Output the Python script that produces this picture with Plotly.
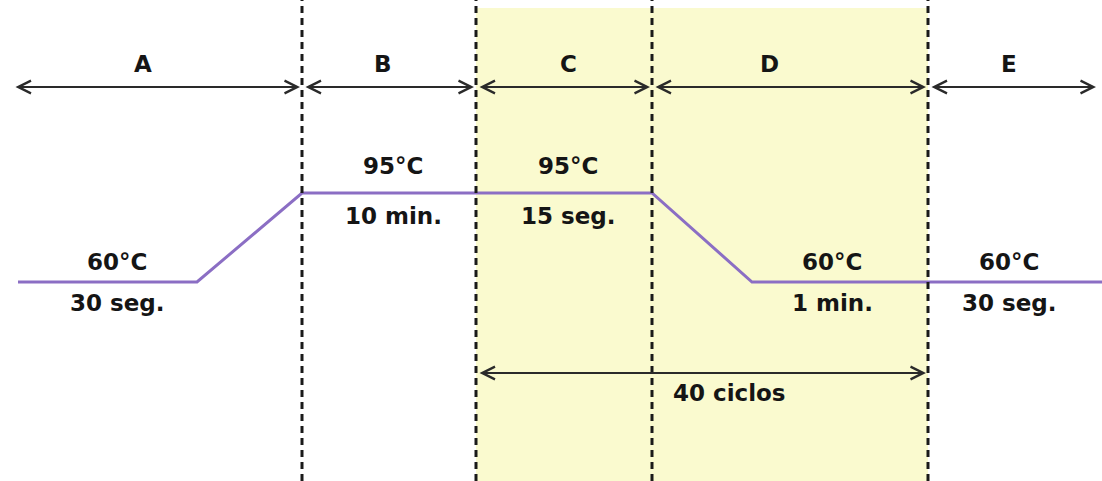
import plotly.graph_objects as go

# ---- data (schematic time axis, temperature in °C) ----
profile_time = [18, 197, 302, 652, 752, 1102]
profile_temp = [60, 60, 95, 95, 60, 60]

segment_labels = ["A", "B", "C", "D", "E"]
segment_edges = [12, 302, 476, 652, 928, 1098]
segment_label_x = [143, 383, 568, 769, 1009]

step_x = [117, 393, 568, 832, 1009]
step_temp = [60, 95, 95, 60, 60]
step_temp_labels = ["60°C", "95°C", "95°C", "60°C", "60°C"]
step_time_labels = ["30 seg.", "10 min.", "15 seg.", "1 min.", "30 seg."]

cycle_start, cycle_end = 476, 928
cycle_label = "40 ciclos"
cycle_label_x = 729

# ---- layout constants ----
W, H = 1102, 481
Y_MIN, Y_MAX = -18.26, 170.9
def ypix(p):  # pixel row -> y value
    return Y_MAX - p * (Y_MAX - Y_MIN) / H

FONT = dict(family="DejaVu Sans", size=23, color="#151515", weight="bold")
LINE_COL = "#2a2a2a"
ARROW = dict(showarrow=True, arrowhead=5, startarrowhead=5, arrowside="end+start",
             arrowsize=1.25, startarrowsize=1.25, arrowwidth=2,
             arrowcolor=LINE_COL, standoff=2, startstandoff=2)

fig = go.Figure()
fig.add_trace(go.Scatter(x=profile_time, y=profile_temp, mode="lines",
                         line=dict(color="#8B6EC4", width=3), hoverinfo="skip"))

shapes = []
shapes.append(dict(type="rect", xref="x", yref="paper", x0=cycle_start, x1=cycle_end,
                   y0=0, y1=1 - 8 / H, fillcolor="rgb(250,250,207)", line=dict(width=0), layer="below"))
for xb in segment_edges[1:-1]:
    shapes.append(dict(type="line", xref="x", yref="paper", x0=xb, x1=xb, y0=0, y1=1,
                       line=dict(color="#1a1a1a", width=3, dash="7px,5px"), layer="above"))

annotations = []
arrow_y = ypix(87)
for i, lab in enumerate(segment_labels):
    x0, x1 = segment_edges[i], segment_edges[i + 1]
    annotations.append(dict(x=x1, y=arrow_y, ax=x0, ay=arrow_y, xref="x", yref="y",
                            axref="x", ayref="y", text="", **ARROW))
    annotations.append(dict(x=segment_label_x[i], y=ypix(64), xref="x", yref="y",
                            text=lab, showarrow=False, font=FONT))

for xs, t, tl, dl in zip(step_x, step_temp, step_temp_labels, step_time_labels):
    if t == 95:
        ty, dy = ypix(166), ypix(216)
    else:
        ty, dy = ypix(262), ypix(303)
    annotations.append(dict(x=xs, y=ty, xref="x", yref="y", text=tl, showarrow=False, font=FONT))
    annotations.append(dict(x=xs, y=dy, xref="x", yref="y", text=dl, showarrow=False, font=FONT))

cy = ypix(373)
annotations.append(dict(x=cycle_end, y=cy, ax=cycle_start, ay=cy, xref="x", yref="y",
                        axref="x", ayref="y", text="", **ARROW))
annotations.append(dict(x=cycle_label_x, y=ypix(393), xref="x", yref="y",
                        text=cycle_label, showarrow=False, font=FONT))

fig.update_layout(width=W, height=H, margin=dict(l=0, r=0, t=0, b=0),
                  paper_bgcolor="white", plot_bgcolor="white", showlegend=False,
                  xaxis=dict(range=[0, W], visible=False, fixedrange=True),
                  yaxis=dict(range=[Y_MIN, Y_MAX], visible=False, fixedrange=True),
                  shapes=shapes, annotations=annotations)

fig.write_html("out.html", config={"displayModeBar": False},
               post_script="document.body.style.margin='0';document.body.style.overflow='hidden';")
